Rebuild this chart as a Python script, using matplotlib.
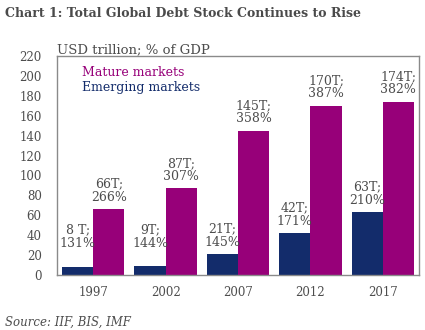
import matplotlib
matplotlib.use("Agg")
import matplotlib.pyplot as plt
import numpy as np

years = ["1997", "2002", "2007", "2012", "2017"]
emerging_usd = [8, 9, 21, 42, 63]
emerging_gdp = [131, 144, 145, 171, 210]
mature_usd = [66, 87, 145, 170, 174]
mature_gdp = [266, 307, 358, 387, 382]
emerging_labels = ["8 T;", "9T;", "21T;", "42T;", "63T;"]
mature_labels = ["66T;", "87T;", "145T;", "170T;", "174T;"]
yticks = list(range(0, 221, 20))

MATURE = "#970079"
EMERGING = "#132c6b"
TEXT = "#4d4d4d"
FONT = "DejaVu Serif"

plt.rcParams["font.family"] = FONT

fig = plt.figure(figsize=(4.25, 3.3), dpi=100)
ax = fig.add_axes([57 / 425, 1 - 275 / 330, (419 - 57) / 425, (275 - 56) / 330])

x = np.arange(len(years))
w = 0.43
ax.bar(x - w / 2, emerging_usd, width=w, color=EMERGING, zorder=2)
ax.bar(x + w / 2, mature_usd, width=w, color=MATURE, zorder=2)

for i in range(len(years)):
    ax.annotate(f"{emerging_labels[i]}\n{emerging_gdp[i]}%",
                (x[i] - w / 2, max(emerging_usd[i], 20)),
                xytext=(0, 4), textcoords="offset points",
                ha="center", va="bottom", fontsize=9, color=TEXT,
                linespacing=1.0)
    ax.annotate(f"{mature_labels[i]}\n{mature_gdp[i]}%",
                (x[i] + w / 2, mature_usd[i]),
                xytext=(0, 4), textcoords="offset points",
                ha="center", va="bottom", fontsize=9, color=TEXT,
                linespacing=1.0)

ax.set_xlim(-0.5, len(years) - 0.5)
ax.set_ylim(0, 220)
ax.set_yticks(yticks)
ax.set_xticks(x)
ax.set_xticklabels(years)
ax.tick_params(axis="both", length=0, labelsize=8.5, labelcolor=TEXT)
ax.tick_params(axis="y", pad=11)
ax.tick_params(axis="x", pad=8)
for s in ax.spines.values():
    s.set_color("#8a8a8a")
    s.set_linewidth(1.0)

ax.text(0.07, 0.955, "Mature markets", transform=ax.transAxes, fontsize=9,
        color=MATURE, va="top", ha="left")
ax.text(0.07, 0.885, "Emerging markets", transform=ax.transAxes, fontsize=9,
        color=EMERGING, va="top", ha="left")

fig.text(57 / 425, 1 - 53 / 330, "USD trillion; % of GDP", fontsize=9.5,
         color=TEXT, ha="left", va="baseline")
fig.text(5 / 425, 1 - 17 / 330, "Chart 1: Total Global Debt Stock Continues to Rise",
         fontsize=9, fontweight="bold", color="#4a4a4a", ha="left", va="baseline")
fig.text(5 / 425, 1 - 326 / 330, "Source: IIF, BIS, IMF", fontsize=8.5,
         style="italic", color=TEXT, ha="left", va="baseline")

fig.savefig("out.png", dpi=100)
